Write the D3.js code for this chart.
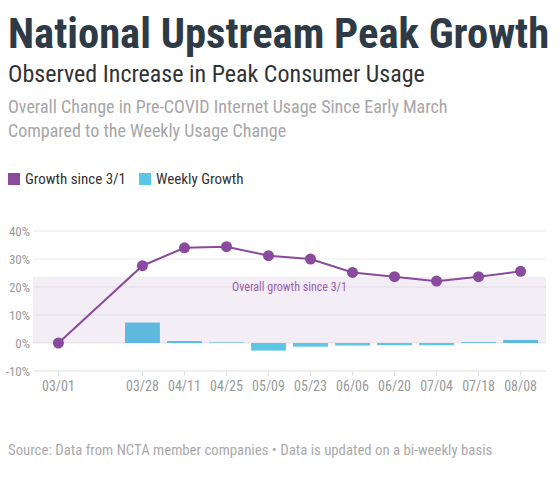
<!DOCTYPE html>
<html>
<head>
<meta charset="utf-8">
<script src="https://cdn.jsdelivr.net/npm/d3@7"></script>
<style>
  body { margin: 0; background: #fff; }
  svg text { font-family: "Roboto Condensed", "Liberation Sans Narrow", "DejaVu Sans Condensed", sans-serif; }
</style>
</head>
<body>
<svg id="chart" width="560" height="480"></svg>
<script>
const categories   = ['03/01', '', '03/28', '04/11', '04/25', '05/09', '05/23', '06/06', '06/20', '07/04', '07/18', '08/08'];
const growthDates  = ['03/01', '03/28', '04/11', '04/25', '05/09', '05/23', '06/06', '06/20', '07/04', '07/18', '08/08'];
const growthValues = [0, 27.6, 34.0, 34.4, 31.2, 30.0, 25.2, 23.7, 22.1, 23.7, 25.6];
const weeklyDates  = ['03/28', '04/11', '04/25', '05/09', '05/23', '06/06', '06/20', '07/04', '07/18', '08/08'];
const weeklyValues = [7.3, 0.7, 0.2, -2.7, -1.3, -0.9, -0.8, -0.8, 0.3, 1.1];
const overallGrowth = 23.6;
const yTicks = [-10, 0, 10, 20, 30, 40];

const purple = '#8a4a9e';
const cyan   = '#5bc6e6';
const fontStack = '"Roboto Condensed", "Liberation Sans Narrow", "DejaVu Sans Condensed", sans-serif';

const svg = d3.select('#chart');
const margin = { top: 231, right: 14, bottom: 109, left: 33 };
const width  = 560 - margin.left - margin.right;
const height = 480 - margin.top - margin.bottom;

// --- Header texts ---
svg.append('text').attr('x', 8).attr('y', 48)
  .attr('font-size', 42.6).attr('font-weight', 700).attr('fill', '#2e3b46')
  .text('National Upstream Peak Growth');
svg.append('text').attr('x', 8).attr('y', 82)
  .attr('font-size', 24).attr('fill', '#333')
  .text('Observed Increase in Peak Consumer Usage');
svg.append('text').attr('x', 8).attr('y', 113)
  .attr('font-size', 18).attr('fill', '#a6a6a6')
  .text('Overall Change in Pre-COVID Internet Usage Since Early March');
svg.append('text').attr('x', 8).attr('y', 137)
  .attr('font-size', 18).attr('fill', '#a6a6a6')
  .text('Compared to the Weekly Usage Change');

// --- Legend ---
const legend = [
  { label: 'Growth since 3/1', color: purple, x: 8 },
  { label: 'Weekly Growth', color: cyan, x: 139 }
];
const lg = svg.append('g').selectAll('g').data(legend).join('g')
  .attr('transform', d => `translate(${d.x},173)`);
lg.append('rect').attr('width', 12).attr('height', 12).attr('fill', d => d.color);
lg.append('text').attr('x', 17).attr('y', 11).attr('font-size', 15).attr('fill', '#333')
  .text(d => d.label);

// --- Footer ---
svg.append('text').attr('x', 8).attr('y', 455)
  .attr('font-size', 14.8).attr('fill', '#aaa')
  .text('Source: Data from NCTA member companies \u2022 Data is updated on a bi-weekly basis');

// --- Plot ---
const g = svg.append('g').attr('transform', `translate(${margin.left},${margin.top})`);

const x = d3.scaleBand().domain(categories).range([0, width]).paddingInner(0.17).paddingOuter(0.19);
const xc = d => x(d) + x.bandwidth() / 2;
const y = d3.scaleLinear().domain([-10, 40]).range([height, 0]);

// gridlines
g.append('g').selectAll('line').data(yTicks).join('line')
  .attr('x1', 0).attr('x2', width)
  .attr('y1', d => y(d)).attr('y2', d => y(d))
  .attr('stroke', d => d === -10 ? '#e0e0e0' : '#ebebeb');

// y axis labels
g.append('g').selectAll('text').data(yTicks).join('text')
  .attr('x', -3).attr('y', d => y(d)).attr('dy', '0.35em')
  .attr('text-anchor', 'end').attr('font-size', 13).attr('fill', '#999')
  .text(d => d + '%');

// x axis
const xAxis = g.append('g').attr('transform', `translate(0,${height})`)
  .call(d3.axisBottom(x).tickValues(categories.filter(c => c)).tickSizeOuter(0).tickSize(5).tickPadding(5));
xAxis.select('.domain').remove();
xAxis.selectAll('line').attr('stroke', '#e0e0e0');
xAxis.selectAll('text').attr('font-size', 14).attr('fill', '#999').style('font-family', fontStack);

// weekly bars
g.append('g').selectAll('rect').data(weeklyDates).join('rect')
  .attr('x', d => x(d))
  .attr('width', x.bandwidth())
  .attr('y', (d, i) => y(Math.max(0, weeklyValues[i])))
  .attr('height', (d, i) => Math.abs(y(weeklyValues[i]) - y(0)))
  .attr('fill', cyan);

// overall growth band
g.append('rect')
  .attr('x', 0).attr('width', width)
  .attr('y', y(overallGrowth)).attr('height', y(0) - y(overallGrowth))
  .attr('fill', purple).attr('fill-opacity', 0.1);
g.append('text')
  .attr('x', width / 2).attr('y', y(20)).attr('dy', '0.35em')
  .attr('text-anchor', 'middle').attr('font-size', 12).attr('fill', '#9b5fae')
  .text('Overall growth since 3/1');

// growth line
const line = d3.line().x(d => xc(d)).y((d, i) => y(growthValues[i]));
g.append('path').datum(growthDates)
  .attr('d', line).attr('fill', 'none')
  .attr('stroke', purple).attr('stroke-width', 2);
g.append('g').selectAll('circle').data(growthDates).join('circle')
  .attr('cx', d => xc(d)).attr('cy', (d, i) => y(growthValues[i]))
  .attr('r', 5.5).attr('fill', purple);
</script>
</body>
</html>
